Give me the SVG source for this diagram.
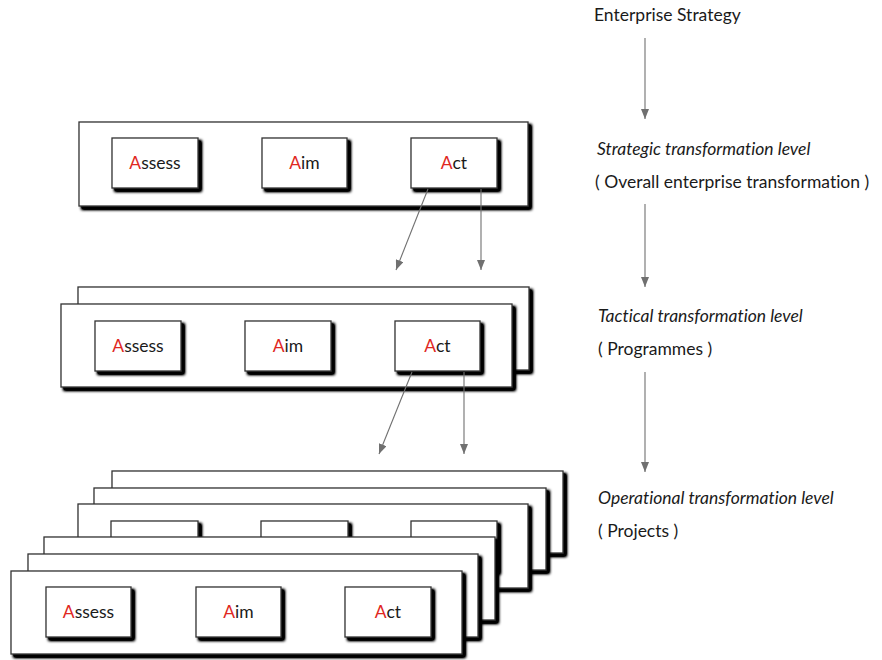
<svg xmlns="http://www.w3.org/2000/svg" width="882" height="660" viewBox="0 0 882 660">
  <defs>
    <filter id="shadow" x="-10%" y="-20%" width="130%" height="160%">
      <feGaussianBlur in="SourceAlpha" stdDeviation="1.5"/>
      <feOffset dx="3" dy="3" result="blur"/>
      <feComponentTransfer><feFuncA type="linear" slope="1.8"/></feComponentTransfer>
      <feMerge><feMergeNode/><feMergeNode in="SourceGraphic"/></feMerge>
    </filter>
    <marker id="head" markerUnits="userSpaceOnUse" markerWidth="10" markerHeight="8" refX="10" refY="4" orient="auto">
      <path d="M0,0 L10,4 L0,8 z" fill="#707070"/>
    </marker>
    <style>
      .panel { fill: #ffffff; stroke: #333333; stroke-width: 1.3; filter: url(#shadow); }
      .box { fill: #ffffff; stroke: #333333; stroke-width: 1.3; filter: url(#shadow); }
      text { font-variant-ligatures: none; }
      .lbl { font-family: Lato, "Open Sans", sans-serif; font-size: 17.5px; fill: #1a1a1a; text-anchor: middle; }
      .red { fill: #e0281f; }
      .side { font-family: Lato, "Open Sans", sans-serif; font-size: 17.5px; fill: #1a1a1a; }
      .it { font-style: italic; }
      .conn { stroke: #707070; stroke-width: 1.1; fill: none; marker-end: url(#head); }
    </style>
  </defs>
  <rect width="882" height="660" fill="#ffffff"/>

  <!-- Strategic level: a single panel -->
  <g id="strategic">
    <rect class="panel" x="79" y="122" width="449" height="84"/>
    <g id="s-assess"><rect class="box" x="112" y="138" width="86" height="50"/><text class="lbl" x="155" y="169"><tspan class="red">A</tspan>ssess</text></g>
    <g id="s-aim"><rect class="box" x="262" y="138" width="85" height="50"/><text class="lbl" x="304.5" y="169"><tspan class="red">A</tspan>im</text></g>
    <g id="s-act"><rect class="box" x="411" y="138" width="86" height="50"/><text class="lbl" x="454" y="169"><tspan class="red">A</tspan>ct</text></g>
  </g>

  <!-- Tactical level: two stacked panels -->
  <g id="tactical">
    <rect class="panel" x="78" y="287" width="451" height="83"/>
    <rect class="panel" x="61" y="304" width="451" height="83"/>
    <g id="t-assess"><rect class="box" x="95" y="321" width="86" height="50"/><text class="lbl" x="138" y="352"><tspan class="red">A</tspan>ssess</text></g>
    <g id="t-aim"><rect class="box" x="245" y="321" width="86" height="50"/><text class="lbl" x="288" y="352"><tspan class="red">A</tspan>im</text></g>
    <g id="t-act"><rect class="box" x="395" y="321" width="85" height="50"/><text class="lbl" x="437.5" y="352"><tspan class="red">A</tspan>ct</text></g>
  </g>

  <!-- Operational level: two stacks of three panels -->
  <g id="operational">
    <rect class="panel" x="112" y="471" width="451" height="82"/>
    <rect class="panel" x="94" y="488" width="452" height="82"/>
    <rect class="panel" x="78" y="504" width="450" height="84"/>
    <rect class="box" x="111" y="521" width="87" height="50"/>
    <rect class="box" x="261" y="521" width="87" height="50"/>
    <rect class="box" x="411" y="521" width="86" height="50"/>
    <rect class="panel" x="44" y="537" width="451" height="83"/>
    <rect class="panel" x="28" y="554" width="450" height="83"/>
    <rect class="panel" x="11" y="571" width="451" height="83"/>
    <g id="o-assess"><rect class="box" x="46" y="587" width="85" height="50"/><text class="lbl" x="88.5" y="618"><tspan class="red">A</tspan>ssess</text></g>
    <g id="o-aim"><rect class="box" x="196" y="587" width="85" height="50"/><text class="lbl" x="238.5" y="618"><tspan class="red">A</tspan>im</text></g>
    <g id="o-act"><rect class="box" x="345" y="587" width="86" height="50"/><text class="lbl" x="388" y="618"><tspan class="red">A</tspan>ct</text></g>
  </g>

  <!-- Level captions -->
  <g id="captions">
    <text class="side" x="594" y="21">Enterprise Strategy</text>
    <text class="side it" x="597" y="155">Strategic transformation level</text>
    <text class="side" x="595" y="188">( Overall enterprise transformation )</text>
    <text class="side it" x="598" y="322">Tactical transformation level</text>
    <text class="side" x="598" y="355">( Programmes )</text>
    <text class="side it" x="598" y="504">Operational transformation level</text>
    <text class="side" x="598" y="537">( Projects )</text>
  </g>

  <!-- Connectors -->
  <g id="connectors">
    <line class="conn" x1="645" y1="38" x2="645" y2="119"/>
    <line class="conn" x1="645" y1="204" x2="645" y2="287"/>
    <line class="conn" x1="645" y1="372" x2="645" y2="472"/>
    <line class="conn" x1="428" y1="189" x2="396" y2="270"/>
    <line class="conn" x1="481" y1="189" x2="481" y2="270"/>
    <line class="conn" x1="412" y1="372" x2="379" y2="454"/>
    <line class="conn" x1="464" y1="372" x2="464" y2="454"/>
  </g>
</svg>
